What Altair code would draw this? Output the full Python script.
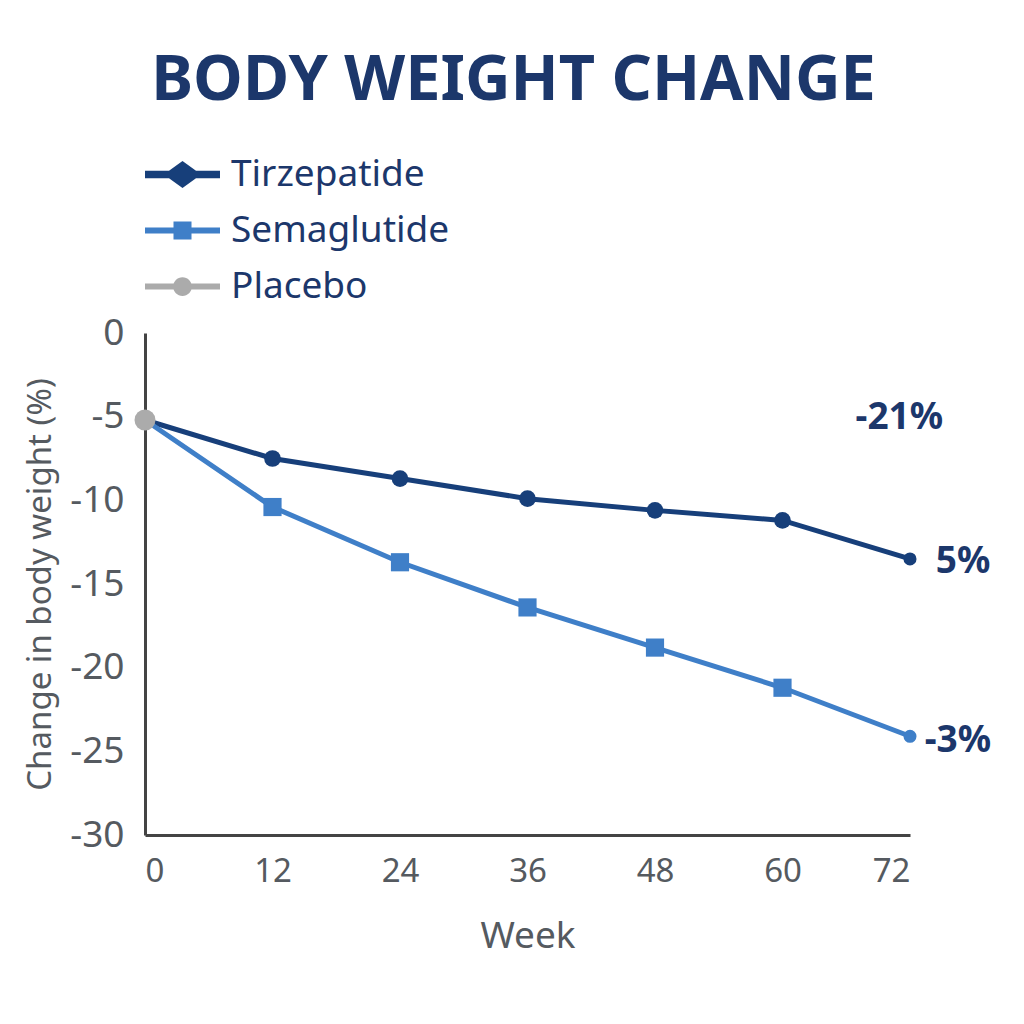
import altair as alt
import pandas as pd

weeks = [0, 12, 24, 36, 48, 60, 72]
tirzepatide = [-5.2, -7.5, -8.7, -9.9, -10.6, -11.2, -13.5]
semaglutide = [-5.2, -10.4, -13.7, -16.4, -18.8, -21.2, -24.1]
placebo_weeks = [0]
placebo = [-5.2]

series_names = ["Tirzepatide", "Semaglutide", "Placebo"]
series_colors = ["#173f7a", "#3f7fc8", "#ababab"]

ann_labels = ["-21%", "5%", "-3%"]
ann_weeks = [71, 77, 76.5]
ann_values = [-5.1, -13.7, -24.4]

y_ticks = [0, -5, -10, -15, -20, -25, -30]
x_ticks = [0, 12, 24, 36, 48, 60, 72]

rows = []
for w, v in zip(weeks, tirzepatide):
    rows.append({"week": w, "value": v, "series": "Tirzepatide"})
for w, v in zip(weeks, semaglutide):
    rows.append({"week": w, "value": v, "series": "Semaglutide"})
for w, v in zip(placebo_weeks, placebo):
    rows.append({"week": w, "value": v, "series": "Placebo"})
df = pd.DataFrame(rows)
ann = pd.DataFrame({"label": ann_labels, "week": ann_weeks, "value": ann_values})

NAVY = "#1c376b"
GRAY = "#555a60"

legend_paths = [
    "M-1,-0.1 L-0.36,-0.1 L0,-0.36 L0.36,-0.1 L1,-0.1 L1,0.1 L0.36,0.1 L0,0.36 L-0.36,0.1 L-1,0.1 Z",
    "M-1,-0.08 L-0.24,-0.08 L-0.24,-0.24 L0.24,-0.24 L0.24,-0.08 L1,-0.08 L1,0.08 L0.24,0.08 L0.24,0.24 L-0.24,0.24 L-0.24,0.08 L-1,0.08 Z",
    "M-1,-0.08 L1,-0.08 L1,0.08 L-1,0.08 Z M-0.25,0 A0.25,0.25 0 1,1 0.25,0 A0.25,0.25 0 1,1 -0.25,0 Z",
]

x_enc = alt.X(
    "week:Q",
    scale=alt.Scale(domain=[0, 72], nice=False, zero=False),
    axis=alt.Axis(
        values=x_ticks, title="Week", grid=False, ticks=False,
        domainColor="#444444", domainWidth=3,
        labelFont="Noto Sans", labelFontSize=33, labelColor=GRAY,
        labelPadding=20, titleFont="Noto Sans", titleFontSize=37,
        titleFontWeight="normal", titleColor=GRAY, titlePadding=30,
    ),
)
y_enc = alt.Y(
    "value:Q",
    scale=alt.Scale(domain=[-30, 0], nice=False),
    axis=alt.Axis(
        values=y_ticks, title="Change in body weight (%)", grid=False, ticks=False,
        domainColor="#444444", domainWidth=3, labelExpr="'' + datum.value",
        labelFont="Noto Sans", labelFontSize=37, labelColor=GRAY,
        labelPadding=21, titleFont="Noto Sans", titleFontSize=33,
        titleFontWeight="normal", titleColor=GRAY, titlePadding=12,
    ),
)
color_scale = alt.Scale(domain=series_names, range=series_colors)

base = alt.Chart(df)

lines = base.transform_filter(alt.datum.series != "Placebo").mark_line(strokeWidth=5).encode(
    x=x_enc, y=y_enc,
    color=alt.Color("series:N", scale=color_scale, legend=None),
    detail="series:N",
)

tirz_pts = base.transform_filter(
    (alt.datum.series == "Tirzepatide") & (alt.datum.week > 0) & (alt.datum.week < 72)
).mark_point(filled=True, shape="circle", size=280, opacity=1).encode(
    x="week:Q", y="value:Q",
    color=alt.Color("series:N", scale=color_scale, legend=None),
)
sema_pts = base.transform_filter(
    (alt.datum.series == "Semaglutide") & (alt.datum.week > 0) & (alt.datum.week < 72)
).mark_point(filled=True, shape="square", size=330, opacity=1).encode(
    x="week:Q", y="value:Q",
    color=alt.Color("series:N", scale=color_scale, legend=None),
)
end_pts = base.transform_filter(
    (alt.datum.series != "Placebo") & (alt.datum.week == 72)
).mark_point(filled=True, shape="circle", size=170, opacity=1).encode(
    x="week:Q", y="value:Q",
    color=alt.Color("series:N", scale=color_scale, legend=None),
)
placebo_pts = base.transform_filter(alt.datum.series == "Placebo").mark_point(
    filled=True, shape="circle", size=440, opacity=1
).encode(
    x="week:Q", y="value:Q",
    color=alt.Color("series:N", scale=color_scale, legend=None),
)

legend_layer = base.mark_point(filled=True, opacity=0).encode(
    x="week:Q", y="value:Q",
    color=alt.Color("series:N", scale=color_scale,
                    legend=alt.Legend(title=None)),
    shape=alt.Shape("series:N", scale=alt.Scale(domain=series_names, range=legend_paths),
                    legend=alt.Legend(title=None)),
)

labels = alt.Chart(ann).mark_text(
    font="Noto Sans", fontSize=37, fontWeight="bold", color=NAVY
).encode(x="week:Q", y="value:Q", text="label:N")

chart = alt.layer(
    legend_layer, lines, tirz_pts, sema_pts, end_pts, placebo_pts, labels
).properties(
    width=765, height=502,
    title=alt.TitleParams(
        "BODY WEIGHT CHANGE", font="Noto Sans", fontSize=63, fontWeight="bold",
        color=NAVY, anchor="middle", offset=24, dx=-14,
    ),
    padding={"left": 137, "top": 325, "right": 100, "bottom": 150},
    autosize=alt.AutoSizeParams(type="none"),
).configure_view(stroke=None).configure_legend(
    orient="none", legendX=0, legendY=-196,
    symbolSize=5625, symbolOpacity=1, symbolStrokeWidth=0,
    labelFont="Noto Sans", labelFontSize=37, labelColor=NAVY,
    labelLimit=400, rowPadding=-6, labelOffset=11,
)

chart.save("out.html", embed_options={"renderer": "svg", "actions": False})
